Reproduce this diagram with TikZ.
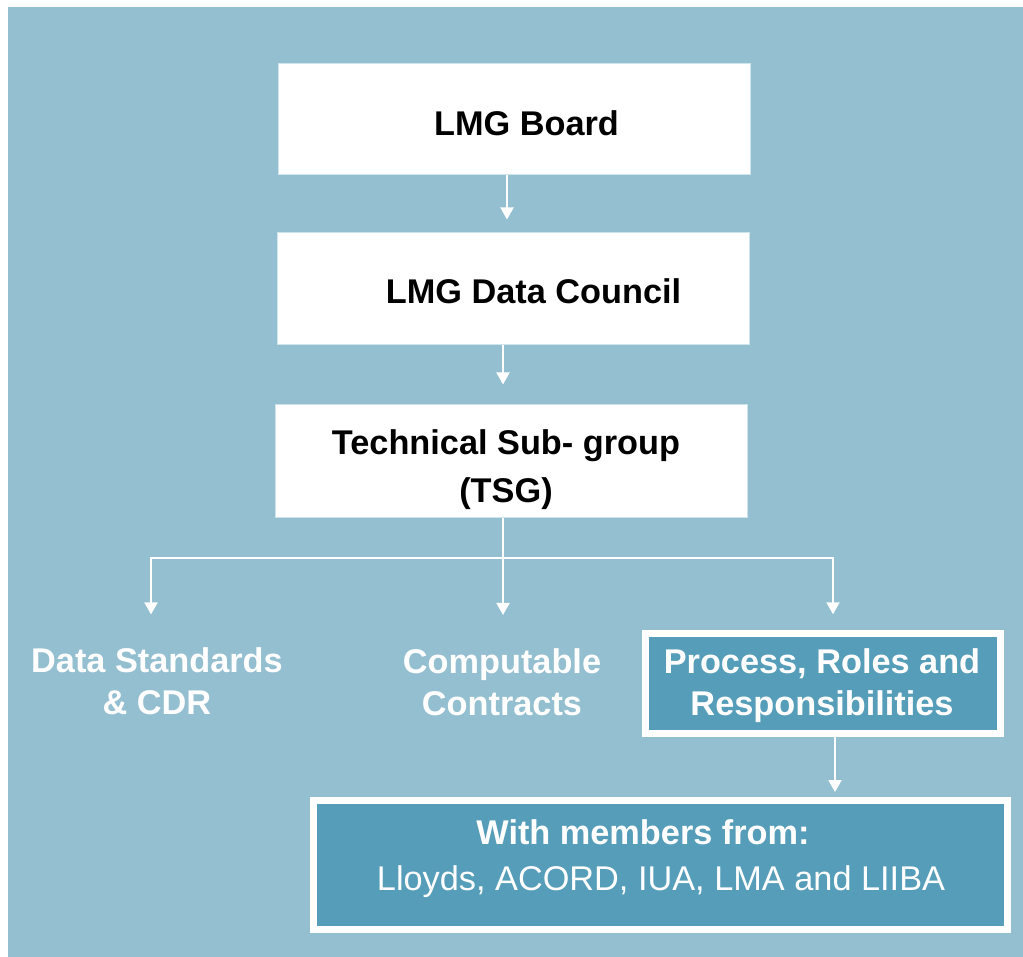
\documentclass[tikz,border=0pt]{standalone}
\usepackage{fontspec}
\setmainfont{Liberation Sans}
\usetikzlibrary{arrows.meta}
\definecolor{bgblue}{HTML}{94BFD0}
\definecolor{boxblue}{HTML}{559DB8}
\definecolor{edgeblue}{HTML}{CFE3EB}

\begin{document}
\begin{tikzpicture}[x=1pt, y=-1pt,
    whitebox/.style={draw=edgeblue, line width=1pt, fill=white, inner sep=0pt},
    bluebox/.style={draw=white, line width=7pt, fill=boxblue, inner sep=0pt},
    txt/.style={font=\fontsize{34.3}{42}\selectfont\bfseries, inner sep=0pt, align=center, anchor=base},
    conn/.style={white, line width=2pt, -{Triangle[width=13pt,length=12pt]}}]
        \useasboundingbox (0,0) rectangle (1023,957);
        \fill[bgblue] (8,7) rectangle (1023,957);

        \node[whitebox, minimum width=472pt, minimum height=111pt] (board) at (514,119.5) {};
        \node[txt] (boardtxt) at (526.5,136) {LMG Board};
        \node[whitebox, minimum width=472pt, minimum height=112pt] (council) at (513,289) {};
        \node[txt] (counciltxt) at (533.5,303.3) {LMG Data Council};
        \node[whitebox, minimum width=472pt, minimum height=112pt] (tsg) at (511,461) {};
        \node[txt, font=\fontsize{34.3}{48}\selectfont\bfseries] (tsgtxt) at (506,502) {Technical Sub- group\\(TSG)};

        % branch labels, base = last line
        \node[txt, white] (ds) at (157,714.5) {Data Standards\\\& CDR};
        \node[txt, white] (cc) at (502,715) {Computable\\Contracts};
        \node[bluebox, minimum width=354.5pt, minimum height=99.5pt] (prr) at (823,683.5) {};
        \node[txt, white] (prrtxt) at (822,715) {Process, Roles and\\Responsibilities};
        \node[bluebox, minimum width=693.5pt, minimum height=129pt] (members) at (660.25,865) {};
        \node[txt, white] (mtitle) at (643,844) {With members from:};
        \node[txt, white, font=\fontsize{34.3}{42}\selectfont] (mlist) at (661,890.7) {Lloyds, ACORD, IUA, LMA and LIIBA};

        \draw[conn, shorten >=13pt] ([xshift=-7pt]board.south) -- ([xshift=-6pt]council.north);
        \draw[conn, shorten >=20pt] ([xshift=-10pt]council.south) -- ([xshift=-8pt]tsg.north);
        \coordinate (split) at (503,558);
        \draw[white, line width=2pt] ([xshift=-8pt]tsg.south) -- (split);
        \draw[conn, shorten >=33pt] (split) -- (split |- cc.north);
        \draw[conn, shorten >=33pt] (split) -| ([xshift=-6pt]ds.north);
        \draw[conn, shorten >=16pt] (split) -| ([xshift=10pt]prr.north);
        \coordinate (prrout) at ([xshift=12pt]prr.south);
        \draw[conn, shorten >=5pt] (prrout) -- (prrout |- members.north);
    \end{tikzpicture}
\end{document}
